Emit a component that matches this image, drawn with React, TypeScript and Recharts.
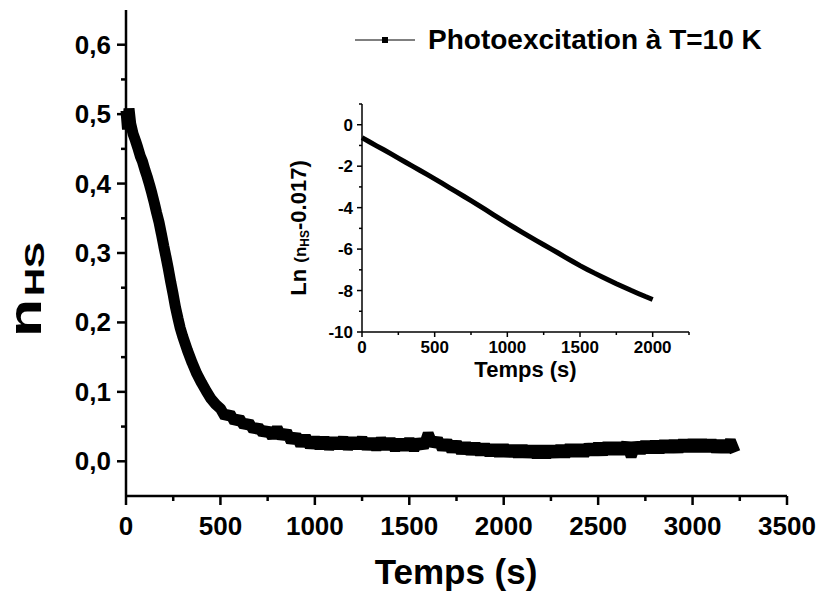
import React from 'react';
import { LineChart, Line, XAxis, YAxis, Legend } from 'recharts';

// main curve: time (s) and n_HS
const TIME = [
  0, 8, 16, 25, 37, 50, 62, 75, 87, 100, 112, 125, 137, 150, 162, 175, 187, 200,
  212, 225, 237, 250, 262, 275, 287, 300, 325, 350, 375, 400, 425, 450, 475,
  500, 525, 550, 575, 600, 625, 650, 675, 700, 725, 750, 775, 800, 825, 850, 875,
  900, 925, 950, 975, 1000, 1025, 1050, 1075, 1100, 1125, 1150, 1175, 1200, 1225,
  1250, 1275, 1300, 1325, 1350, 1375, 1400, 1425, 1450, 1475, 1500, 1525, 1550,
  1575, 1600, 1625, 1650, 1675, 1700, 1725, 1750, 1775, 1800, 1825, 1850, 1875,
  1900, 1925, 1950, 1975, 2000, 2025, 2050, 2075, 2100, 2125, 2150, 2175, 2200,
  2225, 2250, 2275, 2300, 2325, 2350, 2375, 2400, 2425, 2450, 2475, 2500, 2525,
  2550, 2575, 2600, 2625, 2650, 2675, 2700, 2725, 2750, 2775, 2800, 2825, 2850,
  2875, 2900, 2925, 2950, 2975, 3000, 3025, 3050, 3075, 3100, 3125, 3150, 3175,
  3200, 3225,
];

const N_HS = [
  0.505, 0.478, 0.508, 0.486, 0.472, 0.462, 0.452, 0.44, 0.432, 0.42, 0.41, 0.398,
  0.386, 0.372, 0.358, 0.344, 0.328, 0.31, 0.294, 0.276, 0.258, 0.24, 0.222, 0.206,
  0.192, 0.18, 0.16, 0.142, 0.126, 0.113, 0.101, 0.09, 0.082,
  0.076, 0.064, 0.069, 0.057, 0.062, 0.051, 0.056, 0.045, 0.05, 0.04, 0.046, 0.035,
  0.048, 0.034, 0.043, 0.028, 0.038, 0.023, 0.036, 0.021, 0.033, 0.02, 0.033, 0.019,
  0.032, 0.02, 0.033, 0.019, 0.032, 0.02, 0.033, 0.019, 0.031, 0.018, 0.032, 0.019,
  0.031, 0.017, 0.03, 0.018, 0.031, 0.017, 0.03, 0.02, 0.04, 0.023, 0.032, 0.018,
  0.029, 0.015, 0.027, 0.013, 0.025, 0.012, 0.024, 0.011, 0.023, 0.01, 0.022, 0.009,
  0.022, 0.009, 0.021, 0.008, 0.021, 0.008, 0.02, 0.007, 0.02, 0.007, 0.02, 0.008,
  0.021, 0.008, 0.022, 0.009, 0.022, 0.009, 0.023, 0.011, 0.024, 0.011, 0.025, 0.012,
  0.025, 0.012, 0.026, 0.007, 0.026, 0.013, 0.027, 0.014, 0.027, 0.014, 0.028, 0.015,
  0.028, 0.015, 0.029, 0.016, 0.029, 0.016, 0.029, 0.016, 0.029, 0.015, 0.028, 0.015,
  0.03, 0.013,
];

// inset: Ln(n_HS - 0.017) vs time
const INSET_TIME = [
  0, 50, 100, 150, 200, 250, 300, 350, 400, 450, 500, 550, 600, 650, 700, 750, 800,
  850, 900, 950, 1000, 1050, 1100, 1150, 1200, 1250, 1300, 1350, 1400, 1450, 1500,
  1550, 1600, 1650, 1700, 1750, 1800, 1850, 1900, 1950, 2000,
];
const LN_VALUES = [
  -0.62, -0.82, -1.02, -1.21, -1.41, -1.61, -1.81, -2.01, -2.21, -2.41, -2.61, -2.82,
  -3.03, -3.24, -3.45, -3.66, -3.88, -4.1, -4.32, -4.54, -4.76, -4.97, -5.18, -5.39,
  -5.59, -5.79, -5.99, -6.19, -6.4, -6.6, -6.8, -6.98, -7.16, -7.33, -7.5, -7.67,
  -7.83, -7.99, -8.14, -8.29, -8.43,
];

const MAIN_X_TICKS = [0, 250, 500, 750, 1000, 1250, 1500, 1750, 2000, 2250, 2500, 2750, 3000, 3250, 3500];
const MAIN_Y_TICKS = [0, 0.05, 0.1, 0.15, 0.2, 0.25, 0.3, 0.35, 0.4, 0.45, 0.5, 0.55, 0.6];
const INSET_X_TICKS = [0, 250, 500, 750, 1000, 1250, 1500, 1750, 2000, 2250];
const INSET_Y_TICKS = [-10, -9, -8, -7, -6, -5, -4, -3, -2, -1, 0, 1];

const FONT = '"Liberation Sans", Arial, Helvetica, sans-serif';
const LEGEND_NAME = 'Photoexcitation à T=10 K';

const mainData = TIME.map((t, i) => ({ t, n: N_HS[i] }));
const insetData = INSET_TIME.map((t, i) => ({ t, ln: LN_VALUES[i] }));

const MainXTick = ({ x, y, payload }: any) => {
  const major = payload.value % 500 === 0;
  return (
    <g>
      <line x1={x} x2={x} y1={y} y2={y + (major ? 9 : 5)} stroke="#000" strokeWidth={2.5} />
      {major && (
        <text x={x} y={y + 39} textAnchor="middle" fontFamily={FONT} fontWeight="bold" fontSize={26} fill="#000">
          {payload.value}
        </text>
      )}
    </g>
  );
};

const MainYTick = ({ x, y, payload }: any) => {
  const major = Math.round(payload.value * 100) % 10 === 0;
  return (
    <g>
      <line x1={x - (major ? 9 : 5)} x2={x} y1={y} y2={y} stroke="#000" strokeWidth={2.5} />
      {major && (
        <text x={x - 15} y={y + 9} textAnchor="end" fontFamily={FONT} fontWeight="bold" fontSize={26} fill="#000">
          {payload.value.toFixed(1).replace('.', ',')}
        </text>
      )}
    </g>
  );
};

const InsetXTick = ({ x, y, payload }: any) => {
  const major = payload.value % 500 === 0;
  return (
    <g>
      <line x1={x} x2={x} y1={y} y2={y + (major ? 5 : 3)} stroke="#000" strokeWidth={1.5} />
      {major && (
        <text x={x} y={y + 21} textAnchor="middle" fontFamily={FONT} fontWeight="bold" fontSize={17} fill="#000">
          {payload.value}
        </text>
      )}
    </g>
  );
};

const InsetYTick = ({ x, y, payload }: any) => {
  const major = payload.value % 2 === 0;
  return (
    <g>
      <line x1={x - (major ? 5 : 3)} x2={x} y1={y} y2={y} stroke="#000" strokeWidth={1.5} />
      {major && (
        <text x={x - 9} y={y + 6} textAnchor="end" fontFamily={FONT} fontWeight="bold" fontSize={17} fill="#000">
          {payload.value}
        </text>
      )}
    </g>
  );
};

const MainLegend = () => (
  <svg width={440} height={40} style={{ display: 'block' }}>
    <line x1={5} x2={65} y1={20} y2={20} stroke="#000" strokeWidth={1} />
    <rect x={32} y={17} width={6} height={6} fill="#000" />
    <text x={78} y={29} fontFamily={FONT} fontWeight="bold" fontSize={28} fill="#000">
      {LEGEND_NAME}
    </text>
  </svg>
);

// Origin draws the y title a little stretched along its length
const MainYLabel = () => (
  <g fontFamily={FONT} fontWeight="bold" fill="#000">
    <text transform="translate(41, 337) rotate(-90)" fontSize={46} textLength={38} lengthAdjust="spacingAndGlyphs">
      n
    </text>
    <text transform="translate(44, 296) rotate(-90)" fontSize={28} textLength={54} lengthAdjust="spacingAndGlyphs">
      HS
    </text>
  </g>
);

export default function App() {
  return (
    <div style={{ position: 'absolute', left: 0, top: 0, width: 819, height: 597, background: '#fff' }}>
      <LineChart width={819} height={597} data={mainData} margin={{ top: 10, right: 32, bottom: 0, left: 0 }}>
        <XAxis
          dataKey="t"
          type="number"
          domain={[0, 3500]}
          ticks={MAIN_X_TICKS}
          interval={0}
          height={101}
          tickSize={0}
          tickMargin={0}
          tickLine={false}
          axisLine={{ stroke: '#000', strokeWidth: 2.5 }}
          tick={<MainXTick />}
          label={{
            content: () => (
              <text x={456} y={584} textAnchor="middle" fontFamily={FONT} fontWeight="bold" fontSize={35} fill="#000">
                Temps (s)
              </text>
            ),
          }}
        />
        <XAxis xAxisId="top" orientation="top" type="number" domain={[0, 3500]} height={0} tick={false} tickLine={false} axisLine={{ stroke: '#000', strokeWidth: 2.5 }} />
        <YAxis
          type="number"
          domain={[-0.05, 0.65]}
          ticks={MAIN_Y_TICKS}
          interval={0}
          width={126}
          tickSize={0}
          tickMargin={0}
          tickLine={false}
          axisLine={{ stroke: '#000', strokeWidth: 2.5 }}
          tick={<MainYTick />}
          label={{ content: () => <MainYLabel /> }}
        />
        <YAxis yAxisId="right" orientation="right" type="number" domain={[-0.05, 0.65]} width={0} tick={false} tickLine={false} axisLine={{ stroke: '#000', strokeWidth: 2.5 }} />
        <Legend
          layout="horizontal"
          verticalAlign="middle"
          align="center"
          content={() => <MainLegend />}
          wrapperStyle={{ position: 'absolute', top: 20, left: 350, width: 440, height: 40 }}
        />
        <Line
          name={LEGEND_NAME}
          dataKey="n"
          stroke="#000"
          strokeWidth={11}
          strokeLinejoin="bevel"
          dot={false}
          isAnimationActive={false}
        />
      </LineChart>

      <div style={{ position: 'absolute', left: 270, top: 94 }}>
        <LineChart width={440} height={300} data={insetData} margin={{ top: 10, right: 21, bottom: 0, left: 0 }}>
          <XAxis
            dataKey="t"
            type="number"
            domain={[0, 2250]}
            ticks={INSET_X_TICKS}
            interval={0}
            height={62}
            tickSize={0}
            tickMargin={0}
            tickLine={false}
            axisLine={{ stroke: '#000', strokeWidth: 1.5 }}
            tick={<InsetXTick />}
            label={{
              content: () => (
                <text x={255.5} y={283} textAnchor="middle" fontFamily={FONT} fontWeight="bold" fontSize={22} fill="#000">
                  Temps (s)
                </text>
              ),
            }}
          />
          <XAxis xAxisId="top" orientation="top" type="number" domain={[0, 2250]} height={0} tick={false} tickLine={false} axisLine={{ stroke: '#000', strokeWidth: 1.5 }} />
          <YAxis
            type="number"
            domain={[-10, 1]}
            ticks={INSET_Y_TICKS}
            interval={0}
            width={92}
            tickSize={0}
            tickMargin={0}
            tickLine={false}
            axisLine={{ stroke: '#000', strokeWidth: 1.5 }}
            tick={<InsetYTick />}
            label={{
              content: () => (
                <text transform="translate(36, 134) rotate(-90)" textAnchor="middle" fontFamily={FONT} fontWeight="bold" fill="#000">
                  <tspan fontSize={22}>Ln </tspan>
                  <tspan fontSize={17}>(n</tspan>
                  <tspan fontSize={12} dy={3}>HS</tspan>
                  <tspan fontSize={22} dy={-3}>-0.017)</tspan>
                </text>
              ),
            }}
          />
          <YAxis yAxisId="right" orientation="right" type="number" domain={[-10, 1]} width={0} tick={false} tickLine={false} axisLine={{ stroke: '#000', strokeWidth: 1.5 }} />
          <Line dataKey="ln" stroke="#000" strokeWidth={5} dot={false} isAnimationActive={false} />
        </LineChart>
      </div>
    </div>
  );
}
